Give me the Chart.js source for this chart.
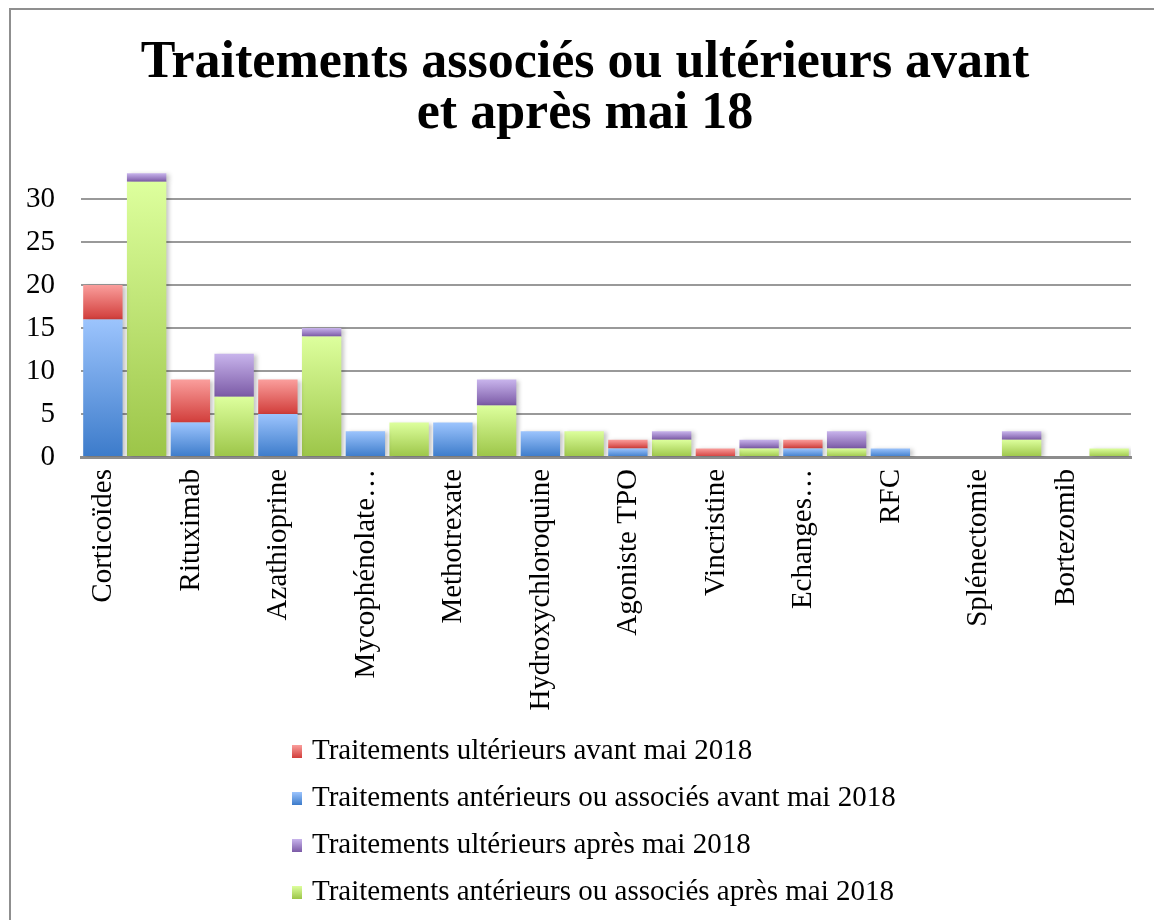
<!DOCTYPE html>
<html><head><meta charset="utf-8">
<script src="https://cdn.jsdelivr.net/npm/chart.js@4.4.1/dist/chart.umd.min.js"></script>
<style>
html,body{margin:0;padding:0;background:#fff;}
#wrap{position:relative;width:1154px;height:920px;overflow:hidden;background:#fff;}
#frame{position:absolute;left:9px;top:8px;width:1160px;height:930px;border-left:2px solid #8f8f8f;border-top:2px solid #8f8f8f;}
canvas{position:absolute;left:0;top:0;}
</style></head><body>
<div id="wrap"><div id="frame"></div><canvas id="c" width="1154" height="920"></canvas></div>
<script>
const titleLines = ['Traitements associés ou ultérieurs avant', 'et après mai 18'];
const categories = ['Corticoïdes','Rituximab','Azathioprine','Mycophénolate…','Methotrexate','Hydroxychloroquine','Agoniste TPO','Vincristine','Echanges…','RFC','Splénectomie','Bortezomib'];
const labelUlterieursAvant = 'Traitements ultérieurs avant mai 2018';
const labelAnterieursAvant = 'Traitements antérieurs ou associés avant mai 2018';
const labelUlterieursApres = 'Traitements ultérieurs après mai 2018';
const labelAnterieursApres = 'Traitements antérieurs ou associés après mai 2018';
const anterieursAvant = [16,4,5,3,4,3,1,0,1,1,0,0];
const ulterieursAvant = [4,5,4,0,0,0,1,1,1,0,0,0];
const anterieursApres = [32,7,14,4,6,3,2,1,1,0,2,1];
const ulterieursApres = [1,5,1,0,3,0,1,1,2,0,1,0];
const yTicks = [0,5,10,15,20,25,30];
const yMax = 35;

const FONT = "'Liberation Serif', 'Times New Roman', serif";

function segGradient(lowers, own, cTop, cBot) {
  return function(ctx) {
    const chart = ctx.chart;
    if (ctx.type !== 'data' || !chart.chartArea || !chart.scales.y) return cBot;
    const i = ctx.dataIndex;
    const y = chart.scales.y;
    let base = 0; lowers.forEach(a => base += a[i]);
    const y0 = y.getPixelForValue(base), y1 = y.getPixelForValue(base + own[i]);
    if (!(y0 > y1)) return cBot;
    const g = chart.ctx.createLinearGradient(0, y1, 0, y0);
    g.addColorStop(0, cTop); g.addColorStop(1, cBot);
    return g;
  };
}

const COLORS = {
  blue: ['#9cc4fd', '#3c7bca'],
  red: ['#fa9e9c', '#d13d3a'],
  green: ['#ddff9d', '#9cc548'],
  purple: ['#c8b4ec', '#7b5aa6']
};

const datasets = [
  {label: labelAnterieursAvant, data: anterieursAvant, stack: 'avant', backgroundColor: segGradient([], anterieursAvant, ...COLORS.blue), _c: COLORS.blue},
  {label: labelUlterieursAvant, data: ulterieursAvant, stack: 'avant', backgroundColor: segGradient([anterieursAvant], ulterieursAvant, ...COLORS.red), _c: COLORS.red},
  {label: labelAnterieursApres, data: anterieursApres, stack: 'apres', backgroundColor: segGradient([], anterieursApres, ...COLORS.green), _c: COLORS.green},
  {label: labelUlterieursApres, data: ulterieursApres, stack: 'apres', backgroundColor: segGradient([anterieursApres], ulterieursApres, ...COLORS.purple), _c: COLORS.purple}
];
const legendOrder = [1, 0, 3, 2];

const shadowPlugin = {
  id: 'shadow',
  beforeDatasetsDraw(chart) {
    const c = chart.ctx; c.save();
    c.shadowColor = 'rgba(0,0,0,0.22)'; c.shadowBlur = 4; c.shadowOffsetX = 3; c.shadowOffsetY = 1;
  },
  afterDatasetsDraw(chart) { chart.ctx.restore(); }
};

const titlePlugin = {
  id: 'customTitle',
  afterDraw(chart) {
    const c = chart.ctx;
    c.save();
    c.font = 'bold 52px ' + FONT;
    c.fillStyle = '#000';
    c.textAlign = 'center';
    c.textBaseline = 'alphabetic';
    c.fillText(titleLines[0], 585, 77);
    c.fillText(titleLines[1], 585, 128);
    c.restore();
  }
};

const legendPlugin = {
  id: 'customLegend',
  afterDraw(chart) {
    const c = chart.ctx;
    c.save();
    c.font = '29px ' + FONT;
    c.textBaseline = 'middle';
    c.textAlign = 'left';
    legendOrder.forEach((di, k) => {
      const ds = chart.data.datasets[di];
      const yc = 751 + k * 47;
      const g = c.createLinearGradient(0, yc - 6, 0, yc + 7);
      g.addColorStop(0, ds._c[0]); g.addColorStop(1, ds._c[1]);
      c.fillStyle = g;
      c.fillRect(292, yc - 6, 10, 13);
      c.fillStyle = '#000';
      c.fillText(ds.label, 312, yc);
    });
    c.restore();
  }
};

Chart.defaults.font.family = FONT;
Chart.defaults.color = '#000';

new Chart(document.getElementById('c'), {
  type: 'bar',
  data: { labels: categories, datasets },
  options: {
    responsive: false,
    animation: false,
    devicePixelRatio: 1,
    layout: { padding: { left: 0, right: 23, top: 156, bottom: 203 } },
    datasets: { bar: { barPercentage: 0.9, categoryPercentage: 1.0, borderWidth: 0 } },
    plugins: {
      legend: { display: false },
      tooltip: { enabled: false },
      title: { display: false }
    },
    scales: {
      x: {
        stacked: true,
        grid: { display: false, drawTicks: false },
        border: { display: true, color: '#8c8c8c', width: 3 },
        ticks: { autoSkip: false, minRotation: 90, maxRotation: 90, padding: 12, labelOffset: -21, font: { size: 29 }, color: '#000' },
        afterFit(scale) { scale.height = 260; }
      },
      y: {
        stacked: true,
        min: 0, max: yMax,
        afterBuildTicks(scale) { scale.ticks = yTicks.concat([yMax]).map(v => ({ value: v })); },
        grid: {
          drawTicks: false,
          color: (ctx) => (ctx.tick && ctx.tick.value === yMax) || (ctx.tick && ctx.tick.value === 0) ? 'rgba(0,0,0,0)' : '#999999',
          lineWidth: 2
        },
        border: { display: false },
        ticks: {
          padding: 26, font: { size: 29 }, color: '#000',
          callback: (v) => yTicks.includes(v) ? String(v) : ''
        },
        afterFit(scale) { scale.width = 81; }
      }
    }
  },
  plugins: [shadowPlugin, titlePlugin, legendPlugin]
});
</script>
</body></html>
